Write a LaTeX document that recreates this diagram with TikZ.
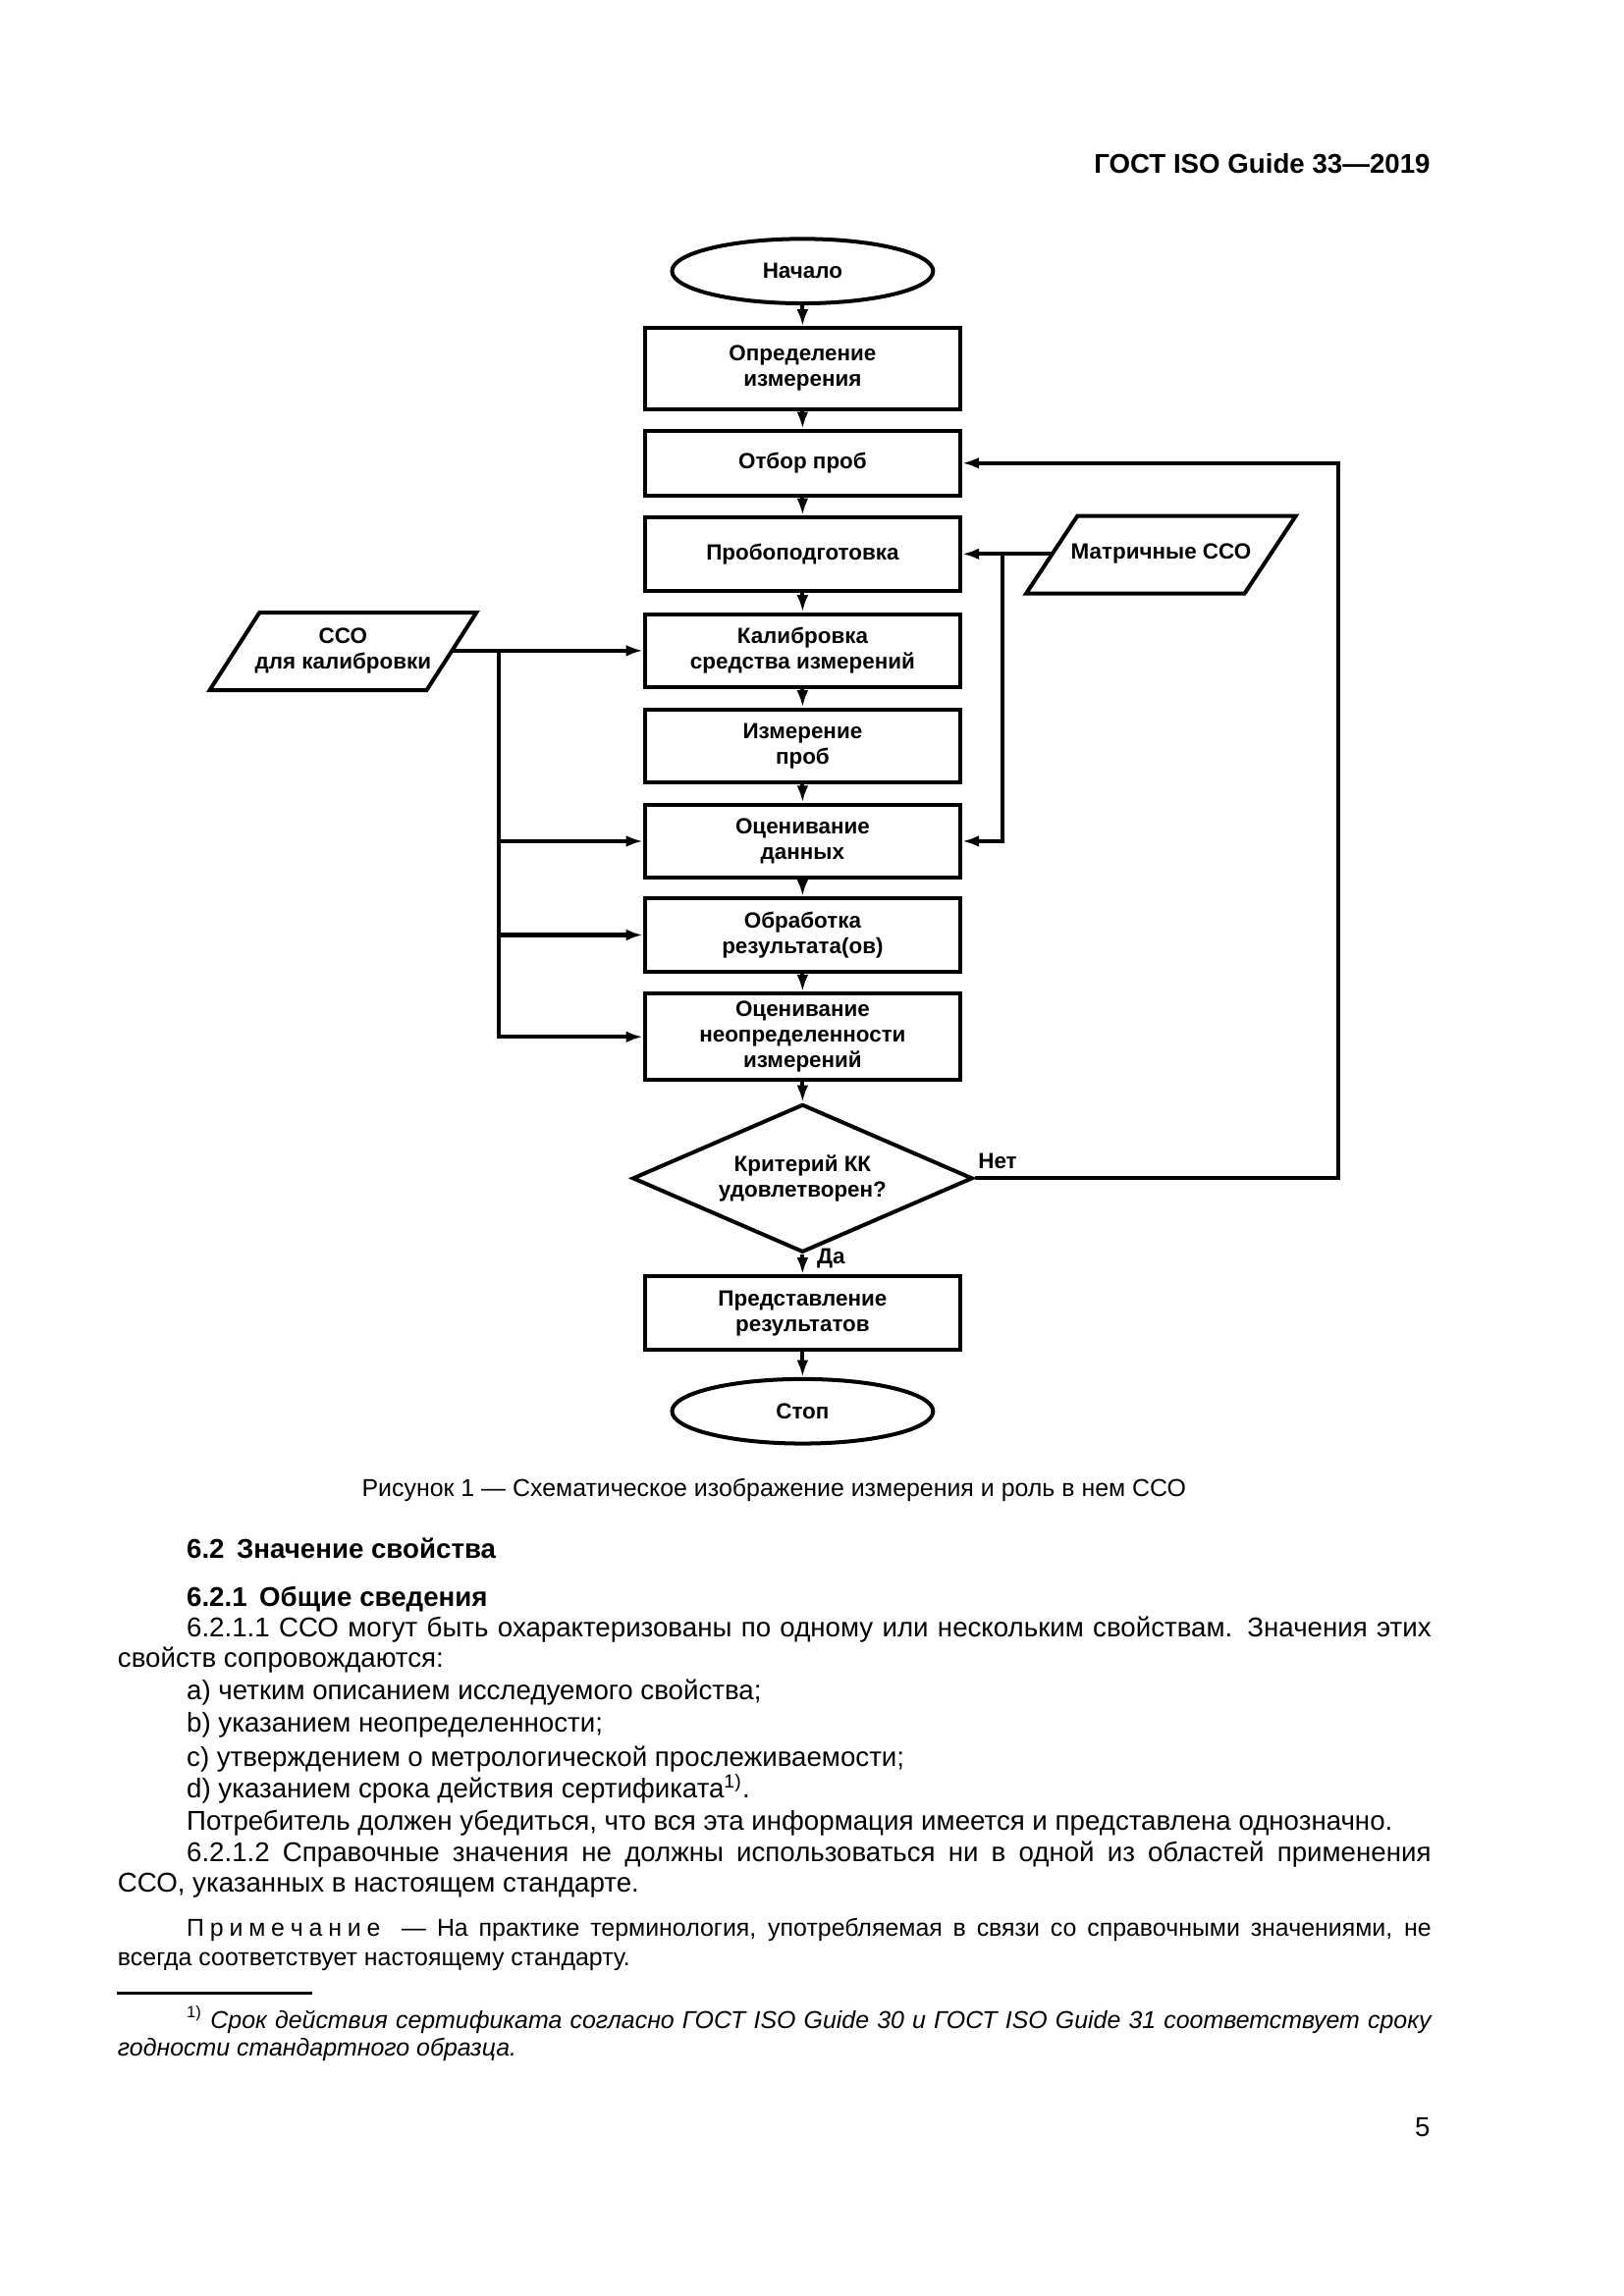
\documentclass[tikz,border=0pt]{standalone}
\usepackage{fontspec}
\setmainfont{Liberation Sans}
\usetikzlibrary{shapes.geometric,arrows.meta}
\newcommand\dfont{\bfseries\fontsize{8.1}{9.4}\selectfont}
\newcommand\bodyf{\fontsize{10}{12}\selectfont}
\newcommand\smallf{\fontsize{9}{11}\selectfont}
\newcommand\ls{\hspace{2.1pt}}
\begin{document}
\begin{tikzpicture}[x=0.18957mm, y=-0.18957mm,
  lw/.style={line width=1.45pt},
  proc/.style={draw, lw, minimum width=40.76mm, minimum height=9.48mm, inner sep=0pt, align=center, font=\dfont},
  term/.style={draw, lw, ellipse, minimum width=33.76mm, minimum height=8.34mm, inner sep=0pt, font=\dfont},
  decide/.style={draw, lw, diamond, aspect=2.3, minimum width=43.99mm, minimum height=19.16mm, inner sep=0pt, align=center, font=\dfont},
  io/.style={inner sep=0pt, align=center, font=\dfont},
  arr/.style={lw, -{Latex[length=2.2mm,width=1.5mm]}},
  lbl/.style={inner sep=0pt, font=\dfont},
  txt/.style={anchor=base west, inner sep=0pt, font=\bodyf},
]
\useasboundingbox (0,0) rectangle (1107.8,1566.7);
\fill[white] (0,0) rectangle (1107.8,1566.7);

% header
\node[anchor=base east, inner sep=0pt, font=\bfseries\fontsize{10}{12}\selectfont] (hdr) at (976,118) {ГОСТ ISO Guide 33---2019};

% flowchart
\node[term] (start) at (547.5,185) {Начало};
\node[proc, minimum height=10.43mm] (b1) at (547.5,251.5) {Определение\\измерения};
\node[proc, minimum height=8.34mm] (b2) at (547.5,316) {Отбор проб};
\node[proc] (b3) at (547.5,378) {Пробоподготовка};
\node[proc] (b4) at (547.5,444) {Калибровка\\средства измерений};
\node[proc] (b5) at (547.5,509) {Измерение\\проб};
\node[proc] (b6) at (547.5,574) {Оценивание\\данных};
\node[proc] (b7) at (547.5,638) {Обработка\\результата(ов)};
\node[proc, minimum height=11.18mm] (b8) at (547.5,707.5) {Оценивание\\неопределенности\\измерений};
\node[decide] (dec) at (547.5,804) {Критерий КК\\удовлетворен?};
\node[proc] (b9) at (547.5,896) {Представление\\результатов};
\node[term] (stop) at (547.5,963) {Стоп};

\node[io] (mat) at (792,378) {Матричные ССО};
\draw[lw] (735,352) -- (884,352) -- (849,405) -- (700,405) -- cycle;
\node[io] (cco) at (234,444) {ССО\\для калибровки};
\draw[lw] (177,418) -- (325,418) -- (291,471) -- (143,471) -- cycle;

\draw[arr] (start) -- (b1);
\draw[arr] (b1) -- (b2);
\draw[arr] (b2) -- (b3);
\draw[arr] (b3) -- (b4);
\draw[arr] (b4) -- (b5);
\draw[arr] (b5) -- (b6);
\draw[arr] (b6) -- (b7);
\draw[arr] (b7) -- (b8);
\draw[arr] (b8) -- (dec);
\draw[arr] (dec) -- (b9);
\draw[arr] (b9) -- (stop);

\coordinate (fb) at (913,804);
\draw[arr] (dec.east) -- (fb) |- (b2.east);
\node[lbl, anchor=west] (net) at (667,792) {Нет};
\node[lbl, anchor=west] (da) at (557,859) {Да};

\coordinate (matL) at (717.5,378);
\coordinate (mj) at (684,378);
\draw[arr] (matL) -- (b3.east);
\draw[arr] (mj) |- (b6.east);

\coordinate (ccoR) at (308,444);
\coordinate (lj) at (340,444);
\draw[arr] (ccoR) -- (b4.west);
\draw[arr] (lj) |- (b6.west);
\draw[arr] (lj) |- (b7.west);
\draw[arr] (lj) |- (b8.west);

% caption
\node[anchor=base, inner sep=0pt, font=\fontsize{9}{11}\selectfont] (cap) at (528,1021) {Рисунок 1 --- Схематическое изображение измерения и роль в нем ССО};

% text
\node[txt, font=\bodyf\bfseries] (h1) at (127,1063) {6.2\hspace{0.45em}Значение свойства};
\node[txt, font=\bodyf\bfseries] (h2) at (127,1096) {6.2.1\hspace{0.45em}Общие сведения};
\node[txt] (l1) at (127,1117) {\makebox[160.94mm][s]{6.2.1.1 ССО могут быть охарактеризованы по одному или нескольким свойствам. Значения этих}};
\node[txt] (l2) at (80,1138) {свойств сопровождаются:};
\node[txt] (l3) at (127,1160) {a)\ четким описанием исследуемого свойства;};
\node[txt] (l4) at (127,1182) {b)\ указанием неопределенности;};
\node[txt] (l5) at (127,1205) {c)\ утверждением о метрологической прослеживаемости;};
\node[txt] (l6) at (127,1227) {d)\ указанием срока действия сертификата\textsuperscript{1)}.};
\node[txt] (l7) at (127,1249) {Потребитель должен убедиться, что вся эта информация имеется и представлена однозначно.};
\node[txt] (l8) at (127,1270) {\makebox[160.94mm][s]{6.2.1.2 Справочные значения не должны использоваться ни в одной из областей применения}};
\node[txt] (l9) at (80,1291) {ССО, указанных в настоящем стандарте.};

\node[txt, font=\smallf] (n1) at (127,1321) {\makebox[160.94mm][s]{П\ls р\ls и\ls м\ls е\ls ч\ls а\ls н\ls и\ls е\ \ --- На практике терминология, употребляемая в связи со справочными значениями, не}};
\node[txt, font=\smallf] (n2) at (80,1341) {всегда соответствует настоящему стандарту.};

\draw[line width=0.8pt] (80,1360) -- (213,1360);
\node[txt, font=\smallf\itshape] (f1) at (127,1384) {\makebox[160.94mm][s]{\textsuperscript{\upshape 1)}\ Срок действия сертификата согласно ГОСТ ISO Guide 30 и ГОСТ ISO Guide 31 соответствует сроку}};
\node[txt, font=\smallf\itshape] (f2) at (80,1403) {годности стандартного образца.};

\node[anchor=base east, inner sep=0pt, font=\bodyf] (pg) at (976,1458) {5};
\end{tikzpicture}
\end{document}
